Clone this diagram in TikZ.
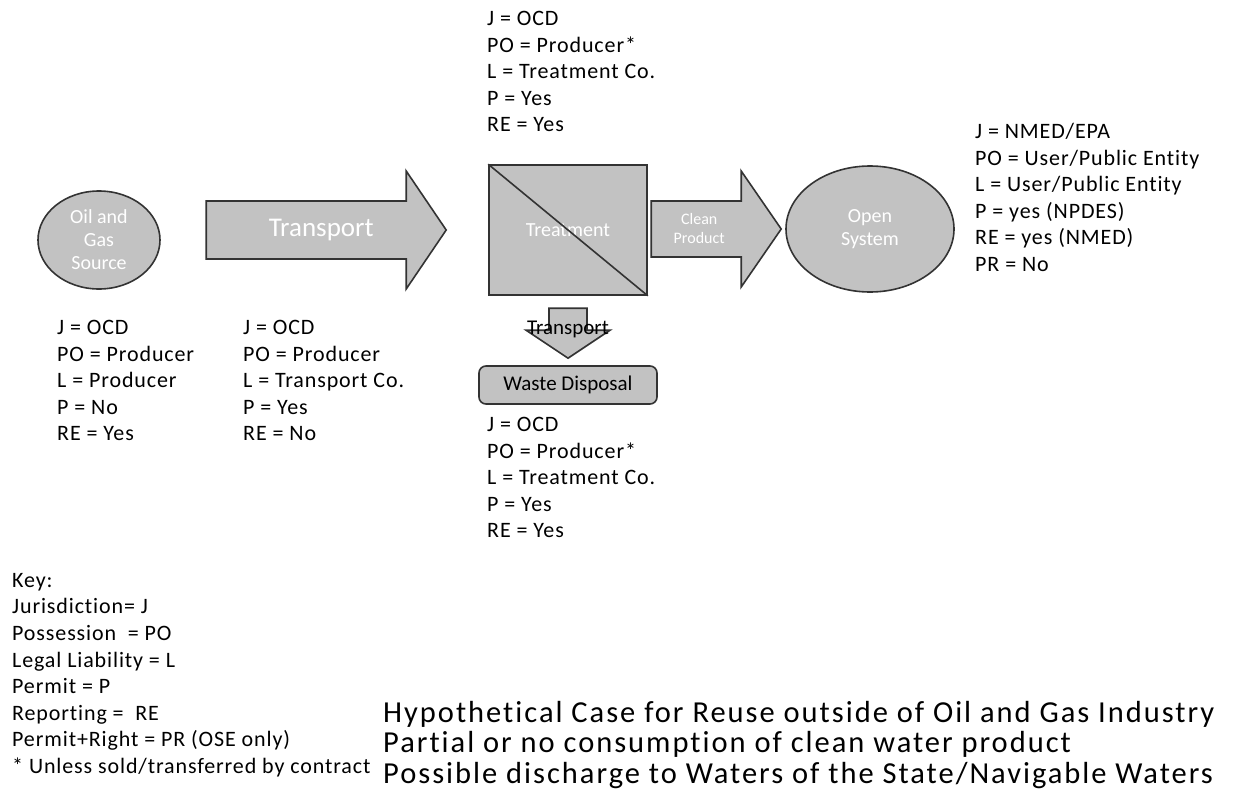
\documentclass[tikz,border=0pt]{standalone}
\usepackage{fontspec}
\setmainfont{Carlito}[Ligatures=NoCommon]
\usetikzlibrary{calc,shapes.geometric}
\definecolor{shade}{HTML}{C2C2C2}
\definecolor{rim}{HTML}{333333}
\tikzset{
  shapebox/.style={draw=rim, line width=1.6pt, fill=shade},
  inlabel/.style={text=white, align=center, inner sep=0pt,
    font=\fontsize{20}{23}\selectfont},
  info/.style={anchor=north west, inner sep=0pt, align=left,
    font=\fontsize{22}{26.6}\selectfont\addfontfeature{LetterSpace=4}},
}
\begin{document}
\begin{tikzpicture}[x=1pt,y=-1pt]
\useasboundingbox (0,0) rectangle (1234,800);

% main chain of units
\node[shapebox, ellipse, minimum width=122pt, minimum height=98pt, inlabel] (src) at (99,240) {Oil and\\Gas\\Source};
\node[shapebox, rectangle, minimum width=158pt, minimum height=130pt, inlabel] (treat) at (568,230) {Treatment};
\draw[rim, line width=1.6pt] (treat.north west) -- (treat.south east);
\node[shapebox, ellipse, minimum width=168pt, minimum height=126pt, inlabel] (open) at (870,229) {Open\\System};
\node[shapebox, rounded corners=7pt, minimum width=178pt, minimum height=38pt, inner sep=0pt,
      font=\fontsize{21}{24}\selectfont] (waste) at (568,385) {Waste Disposal};

% block arrow: source -> treatment
\coordinate (ta) at ($(treat.west)+(-42,0)$);
\draw[shapebox] ($(ta)+(-240,-29)$) -- ($(ta)+(-40,-29)$) -- ($(ta)+(-40,-59)$) -- (ta)
  -- ($(ta)+(-40,59)$) -- ($(ta)+(-40,29)$) -- ($(ta)+(-240,29)$) -- cycle;
\node[inlabel, font=\fontsize{27}{30}\selectfont] (tlab) at ($(ta)+(-125,0)$) {Transport};

% block arrow: treatment -> open system
\coordinate (ca) at ($(open.west)+(-4,0)$);
\draw[shapebox] ($(ca)+(-130,-28)$) -- ($(ca)+(-40,-28)$) -- ($(ca)+(-40,-58)$) -- (ca)
  -- ($(ca)+(-40,58)$) -- ($(ca)+(-40,28)$) -- ($(ca)+(-130,28)$) -- cycle;
\node[inlabel, font=\fontsize{16}{19}\selectfont] (clab) at ($(ca)+(-82,0)$) {Clean\\Product};

% block arrow: treatment -> waste disposal
\coordinate (da) at ($(waste.north)+(0,-7)$);
\draw[shapebox] ($(da)+(-19,-50)$) -- ($(da)+(19,-50)$) -- ($(da)+(19,-28)$) -- ($(da)+(42,-28)$)
  -- (da) -- ($(da)+(-42,-28)$) -- ($(da)+(-19,-28)$) -- cycle;
\node[info, anchor=center, font=\fontsize{21}{23}\selectfont] (dlab) at ($(da)+(0,-29)$) {Transport};

% attribute lists
\node[info] (txtreat) at (487,11) {J = OCD\\PO = Producer*\\L = Treatment Co.\\P = Yes\\RE = Yes};
\node[info] (txsrc) at (57,320) {J = OCD\\PO = Producer\\L = Producer\\P = No\\RE = Yes};
\node[info] (txtrans) at (243,320) {J = OCD\\PO = Producer\\L = Transport Co.\\P = Yes\\RE = No};
\node[info] (txwaste) at (487,417) {J = OCD\\PO = Producer*\\L = Treatment Co.\\P = Yes\\RE = Yes};
\node[info] (txopen) at (975,123) {J = NMED/EPA\\PO = User/Public Entity\\L = User/Public Entity\\P = yes (NPDES)\\RE = yes (NMED)\\PR = No};

% key
\node[info] (key) at (12,573) {Key:\\Jurisdiction= J\\Possession\ \ = PO\\Legal Liability = L\\Permit = P\\Reporting =\ \ RE\\Permit+Right = PR (OSE only)\\* Unless sold/transferred by contract};

% case description
\node[anchor=north west, inner sep=0pt, align=left,
      font=\fontsize{30.5}{30.5}\selectfont\addfontfeature{LetterSpace=6.5}] (case) at (383,701)
  {Hypothetical Case for Reuse outside of Oil and Gas Industry\\Partial or no consumption of clean water product\\Possible discharge to Waters of the State/Navigable Waters};
\end{tikzpicture}
\end{document}
